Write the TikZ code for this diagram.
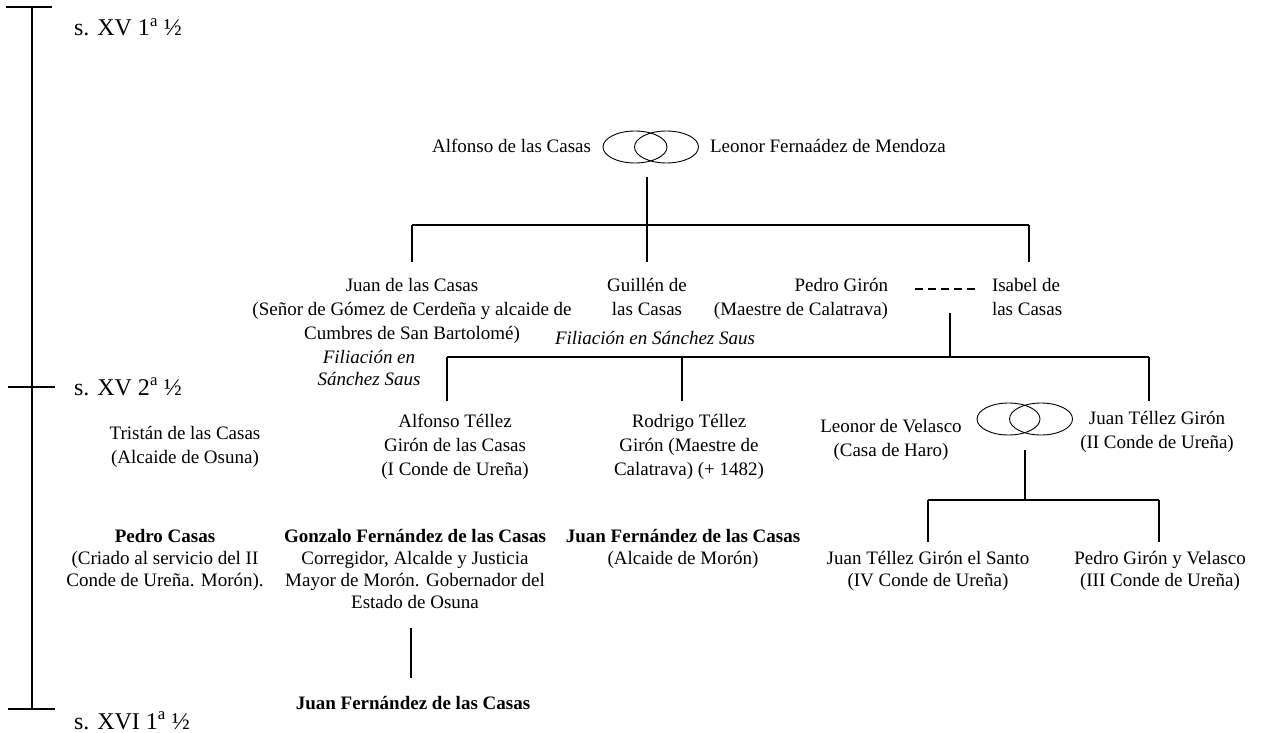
\documentclass[tikz,border=0pt]{standalone}
\usepackage{fontspec}
\setmainfont{Liberation Serif}
\usetikzlibrary{shapes.geometric}
\newcommand\fa{\fontsize{19}{24}\selectfont}
\newcommand\fb{\fontsize{19}{22}\selectfont}
\newcommand\fl{\fontsize{24}{28}\selectfont}
\newcommand\st{\rule{0pt}{15pt}}
\begin{document}
\begin{tikzpicture}[x=1pt,y=-1pt,
  every node/.style={inner sep=0pt, outer sep=0pt},
  tx/.style={anchor=north, align=center, yshift=9pt, font=\fa},
  txl/.style={tx, anchor=north west, align=left},
  txr/.style={tx, anchor=north east, align=right},
  lbl/.style={anchor=base west, yshift=-8pt, font=\fl},
  tl/.style={line width=1.8pt},
  br/.style={line width=1.8pt},
  ring/.style={draw, ellipse, line width=0.9pt, minimum width=64pt, minimum height=32pt},
  dsh/.style={line width=1.8pt, dash pattern=on 8pt off 5pt}]
\useasboundingbox (0,0) rectangle (1269,733);

% timeline
\coordinate (tT) at (32,7);
\coordinate (tB) at (32,709);
\coordinate (tTa) at (6,7);   \coordinate (tTb) at (52,7);
\coordinate (tMa) at (8,387); \coordinate (tMb) at (55,387);
\coordinate (tBa) at (8,709); \coordinate (tBb) at (55,709);
\draw[tl] (tT) -- (tB);
\draw[tl] (tTa) -- (tTb);
\draw[tl] (tMa) -- (tMb);
\draw[tl] (tBa) -- (tBb);
\node[lbl] (s1) at (74,28) {s. XV 1\textsuperscript{a} ½};
\node[lbl] (s2) at (74,387) {s. XV 2\textsuperscript{a} ½};
\node[lbl] (s3) at (74,721) {s. XVI 1\textsuperscript{a} ½};

% generation 1
\node[txr] (alf) at (591,147) {\st Alfonso de las Casas};
\node[ring] (m1a) at (635,147) {};
\node[ring] (m1b) at (666.5,147) {};
\node[txl] (leo) at (710,147) {\st Leonor Fernaádez de Mendoza};
\coordinate (m1d) at (647,177);
\coordinate (j1) at (647,225);
\coordinate (j1L) at (412,225);
\coordinate (j1R) at (1029,225);
\draw[br] (m1d) -- (j1);
\draw[br] (j1L) -- (j1R);
\draw[br] (j1L) -- ++(0,37);
\draw[br] (j1) -- ++(0,37);
\draw[br] (j1R) -- ++(0,37);

% generation 2
\node[tx] (juan) at (412,285) {\st Juan de las Casas\\(Señor de Gómez de Cerdeña y alcaide de\\Cumbres de San Bartolomé)};
\node[tx, font=\fb\itshape] (fil1) at (369,357) {\st Filiación en\\Sánchez Saus};
\node[tx] (gui) at (647,285) {\st Guillén de\\las Casas};
\node[tx, font=\fa\itshape] (fil2) at (655,338) {\st Filiación en Sánchez Saus};
\node[txr] (pgi) at (888,285) {\st Pedro Girón\\(Maestre de Calatrava)};
\node[txl] (isa) at (992,285) {\st Isabel de\\las Casas};
\coordinate (dA) at (915,289);
\coordinate (dB) at (975,289);
\draw[dsh] (dA) -- (dB);

\coordinate (k0) at (950,313);
\coordinate (k1) at (950,357);
\coordinate (k1L) at (447,357);
\coordinate (k1M) at (682,357);
\coordinate (k1R) at (1149,357);
\draw[br] (k0) -- (k1);
\draw[br] (k1L) -- (k1R);
\draw[br] (k1L) -- ++(0,44);
\draw[br] (k1M) -- ++(0,44);
\draw[br] (k1R) -- ++(0,44);

% generation 3
\node[tx] (tri) at (185,433) {\st Tristán de las Casas\\(Alcaide de Osuna)};
\node[tx] (alt) at (455,421) {\st Alfonso Téllez\\Girón de las Casas\\(I Conde de Ureña)};
\node[tx] (rod) at (689,421) {\st Rodrigo Téllez\\Girón (Maestre de\\Calatrava) (+ 1482)};
\node[tx] (lve) at (891,426) {\st Leonor de Velasco\\(Casa de Haro)};
\node[ring, minimum width=63pt] (m2a) at (1008.5,419) {};
\node[ring, minimum width=63pt] (m2b) at (1041,419) {};
\node[tx] (jtg) at (1157,418) {\st Juan Téllez Girón\\(II Conde de Ureña)};
\coordinate (m2d) at (1025,450);
\coordinate (j2) at (1025,500);
\coordinate (j2L) at (928,500);
\coordinate (j2R) at (1159,500);
\draw[br] (m2d) -- (j2);
\draw[br] (j2L) -- (j2R);
\draw[br] (j2L) -- ++(0,42);
\draw[br] (j2R) -- ++(0,42);

% generation 4
\node[tx, font=\fb] (pca) at (165,536) {\st\textbf{Pedro Casas}\\(Criado al servicio del II\\Conde de Ureña. Morón).};
\node[tx, font=\fb] (gon) at (415,536) {\st\textbf{Gonzalo Fernández de las Casas}\\Corregidor, Alcalde y Justicia\\Mayor de Morón. Gobernador del\\Estado de Osuna};
\node[tx, font=\fb] (jfa) at (683,536) {\st\textbf{Juan Fernández de las Casas}\\(Alcaide de Morón)};
\node[tx, font=\fb] (jts) at (928,558) {\st Juan Téllez Girón el Santo\\(IV Conde de Ureña)};
\node[tx, font=\fb] (pgv) at (1160,558) {\st Pedro Girón y Velasco\\(III Conde de Ureña)};
\coordinate (g0) at (411,628);
\coordinate (g1) at (411,678);
\draw[br] (g0) -- (g1);
\node[tx, font=\fb\bfseries] (jfb) at (413,703) {\st Juan Fernández de las Casas};
\end{tikzpicture}
\end{document}
